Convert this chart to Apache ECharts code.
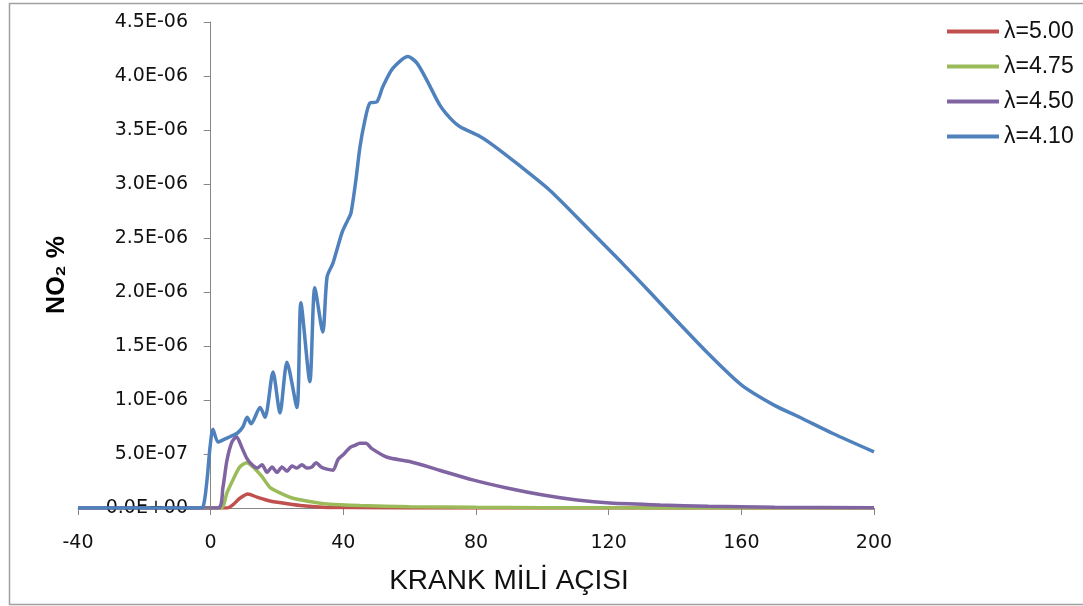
<!DOCTYPE html>
<html>
<head>
<meta charset="utf-8">
<script src="https://cdn.jsdelivr.net/npm/echarts@6/dist/echarts.min.js"></script>
<style>html,body{margin:0;padding:0;background:#fff;}#c{width:1083px;height:606px;}</style>
</head>
<body>
<div id="c"></div>
<script>
// Crank angle (x) and NO2 % (y)
const seriesNames = ['λ=5.00', 'λ=4.75', 'λ=4.50', 'λ=4.10'];
const xTicks = [-40, 0, 40, 80, 120, 160, 200];

const redX = [-40, 4.9, 6.7, 8.8, 11.2, 14.0, 17.9, 23.0, 27.8, 33.8, 40, 60, 100, 200];
const redY = [0, 0, 0.03e-6, 0.09e-6, 0.13e-6, 0.10e-6, 0.065e-6, 0.04e-6, 0.02e-6, 0.008e-6, 0.004e-6, 0.001e-6, 0, 0];

const greenX = [-40, 3, 4.9, 6.7, 8.8, 10.9, 12.8, 15.5, 17.9, 20.9, 24.8, 29.9, 35.1, 45, 60, 80, 100, 130, 160, 200];
const greenY = [0, 0, 0.14e-6, 0.26e-6, 0.38e-6, 0.42e-6, 0.38e-6, 0.29e-6, 0.19e-6, 0.14e-6, 0.09e-6, 0.06e-6, 0.037e-6, 0.022e-6, 0.012e-6, 0.006e-6, 0.003e-6, 0.001e-6, 0, 0];

const purpleX = [-40, 2.2, 3.7, 4.9, 6.4, 7.8, 9.4, 10.9, 12.5, 14.0, 15.5, 17.0, 18.5, 20.0, 21.5, 23.0, 24.5, 26.0, 27.5, 29.0, 30.5, 31.8, 33.3, 35.1, 36.9, 38.4, 40.2, 42.0, 43.5, 45.0, 46.8, 48.6, 53.2, 60, 69, 79, 89.3, 100.2, 110.4, 120.4, 135.5, 150, 170, 200];
const purpleY = [0, 0, 0.19e-6, 0.44e-6, 0.61e-6, 0.66e-6, 0.56e-6, 0.46e-6, 0.40e-6, 0.37e-6, 0.40e-6, 0.33e-6, 0.38e-6, 0.33e-6, 0.38e-6, 0.34e-6, 0.39e-6, 0.37e-6, 0.40e-6, 0.37e-6, 0.38e-6, 0.42e-6, 0.38e-6, 0.36e-6, 0.35e-6, 0.45e-6, 0.50e-6, 0.56e-6, 0.58e-6, 0.60e-6, 0.60e-6, 0.55e-6, 0.47e-6, 0.43e-6, 0.35e-6, 0.26e-6, 0.185e-6, 0.12e-6, 0.074e-6, 0.046e-6, 0.028e-6, 0.017e-6, 0.008e-6, 0.003e-6];

const blueX = [-40, -4, -2.3, -1.1, -0.2, 0.7, 2.2, 3.7, 5.8, 7.9, 9.7, 11.0, 12.2, 14.9, 16.4, 18.8, 20.9, 23.0, 26.0, 27.2, 29.9, 31.4, 33.8, 35.1, 36.9, 39.6, 41.4, 42.3, 43.8, 45.0, 46.5, 48.0, 50.1, 51.9, 54.9, 59.5, 62.2, 65.2, 69.1, 72.2, 75.2, 81.2, 85.1, 92.3, 102.3, 113.4, 124, 132.4, 140, 150, 160, 170, 177.6, 187.6, 200];
const blueY = [0, 0, 0.01e-6, 0.26e-6, 0.56e-6, 0.73e-6, 0.61e-6, 0.63e-6, 0.66e-6, 0.69e-6, 0.75e-6, 0.84e-6, 0.78e-6, 0.93e-6, 0.84e-6, 1.26e-6, 0.88e-6, 1.35e-6, 0.93e-6, 1.90e-6, 1.17e-6, 2.04e-6, 1.63e-6, 2.14e-6, 2.27e-6, 2.55e-6, 2.67e-6, 2.73e-6, 3.04e-6, 3.34e-6, 3.59e-6, 3.75e-6, 3.76e-6, 3.90e-6, 4.07e-6, 4.18e-6, 4.12e-6, 3.96e-6, 3.73e-6, 3.61e-6, 3.53e-6, 3.44e-6, 3.36e-6, 3.19e-6, 2.94e-6, 2.60e-6, 2.27e-6, 2.00e-6, 1.75e-6, 1.43e-6, 1.14e-6, 0.95e-6, 0.84e-6, 0.69e-6, 0.52e-6];

const colors = ['#C0504D', '#9BBB59', '#8064A2', '#4F81BD'];

function pairs(xs, ys) { return xs.map((x, i) => [x, ys[i]]); }
const dataSets = [pairs(redX, redY), pairs(greenX, greenY), pairs(purpleX, purpleY), pairs(blueX, blueY)];

function sciFmt(v) {
  if (Math.abs(v) < 1e-15) return '0.0E+00';
  const s = v.toExponential(1);
  const parts = s.split('e');
  const e = parseInt(parts[1], 10);
  const sign = e < 0 ? '-' : '+';
  const n = Math.abs(e);
  return parts[0] + 'E' + sign + (n < 10 ? '0' : '') + n;
}

const chart = echarts.init(document.getElementById('c'), null, {renderer: 'canvas'});
const axisFont = {fontFamily: 'DejaVu Sans', fontSize: 19, color: '#111'};

chart.setOption({
  animation: false,
  backgroundColor: '#fff',
  grid: {left: 78, right: 209, top: 22, bottom: 98, containLabel: false, outerBoundsMode: 'none'},
  xAxis: {
    type: 'value', min: -40, max: 200, interval: 40,
    axisLine: {onZero: true, lineStyle: {color: '#868686', width: 1}},
    axisTick: {show: true, length: 7, lineStyle: {color: '#868686'}},
    axisLabel: Object.assign({margin: 26, formatter: v => (xTicks.includes(v) ? String(v) : '')}, axisFont),
    splitLine: {show: false}
  },
  yAxis: {
    type: 'value', min: 0, max: 4.5e-6, interval: 0.5e-6, z: 5,
    axisLine: {show: true, onZero: true, lineStyle: {color: '#868686', width: 1}},
    axisTick: {show: true, length: 7, lineStyle: {color: '#868686'}},
    axisLabel: Object.assign({margin: -110, formatter: sciFmt}, axisFont),
    splitLine: {show: false}
  },
  legend: {
    orient: 'vertical', left: 942, top: 14,
    itemWidth: 52, itemHeight: 4, itemGap: 10, icon: 'rect',
    data: seriesNames,
    textStyle: {fontFamily: 'Liberation Sans', fontSize: 23, lineHeight: 25, color: '#111'}
  },
  series: seriesNames.map((name, i) => ({
    name: name, type: 'line', data: dataSets[i],
    showSymbol: false, symbol: 'none', smooth: 0.25,
    color: colors[i],
    lineStyle: {color: colors[i], width: 3.5},
    z: 2 + i
  })),
  graphic: [
    {type: 'rect', shape: {x: 9.5, y: 3.5, width: 1100, height: 601}, style: {fill: 'none', stroke: '#a0a0a0', lineWidth: 1.5}, silent: true, z: -1},
    {type: 'text', x: 57, y: 275, rotation: Math.PI / 2,
     style: {text: 'NO₂ %', font: 'bold 25px "Liberation Sans", "DejaVu Sans"', fill: '#000', align: 'center', verticalAlign: 'middle'}},
    {type: 'text', x: 509, y: 581,
     style: {text: 'KRANK MİLİ AÇISI', font: '28px "Liberation Sans"', fill: '#111', align: 'center', verticalAlign: 'middle'}}
  ]
});
</script>
</body>
</html>
